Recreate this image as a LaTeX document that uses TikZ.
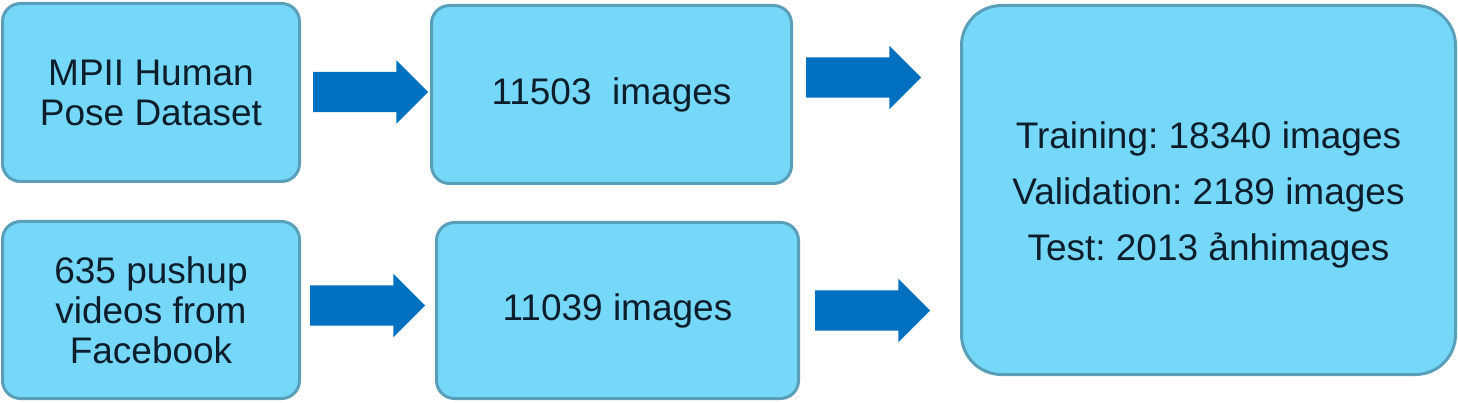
\documentclass[tikz,border=0pt]{standalone}
\usepackage{fontspec}
\setmainfont{Liberation Sans}
\usetikzlibrary{shapes.arrows}
\definecolor{boxfill}{HTML}{76D8F8}
\definecolor{boxline}{HTML}{5A9FBA}
\definecolor{arrowblue}{HTML}{0070C0}
\definecolor{txt}{HTML}{0C1E2C}
\frenchspacing
\tikzset{
  databox/.style={draw=boxline, fill=boxfill, line width=3pt, rounded corners=18pt,
    align=center, text=txt, inner sep=0pt, font=\fontsize{37}{40}\selectfont},
  bigbox/.style={databox, rounded corners=40pt},
  bigtext/.style={align=center, text=txt, inner sep=0pt, font=\fontsize{37}{56}\selectfont},
  blockarrow/.style={single arrow, fill=arrowblue, draw=none, inner xsep=0pt, inner ysep=20pt,
    single arrow head extend=11.5pt, single arrow tip angle=90, minimum height=115pt,
    outer sep=0pt, anchor=tip}
}
\begin{document}
\begin{tikzpicture}[x=1pt,y=-1pt]
\useasboundingbox (0,0) rectangle (1458,403);
\node[databox, minimum width=297pt, minimum height=178pt] (mpii) at (151,92.5) {MPII Human\\Pose Dataset};
\node[databox, minimum width=360pt, minimum height=178pt] (imgA) at (611.5,94.5) {11503\ \ images};
\node[databox, minimum width=297pt, minimum height=177pt] (fb) at (151,310) {635 pushup\\videos from\\Facebook};
\node[databox, minimum width=362pt, minimum height=176pt] (imgB) at (617.5,310.5) {11039 images};
\node[bigbox, minimum width=494pt, minimum height=369pt] (split) at (1208.5,190) {};
\node[bigtext, yshift=-5pt] (splittext) at (split.center) {Training: 18340 images\\Validation: 2189 images\\Test: 2013 ảnhimages};
\node[blockarrow] (a1) at (428,92) {};
\node[blockarrow] (a2) at (921,77.5) {};
\node[blockarrow] (a3) at (425,305.5) {};
\node[blockarrow] (a4) at (930,310.5) {};
\end{tikzpicture}
\end{document}
